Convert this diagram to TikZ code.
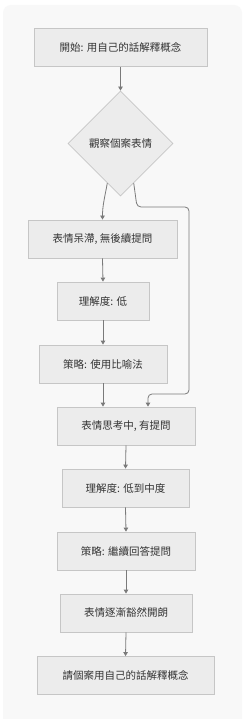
\documentclass[tikz,border=0pt]{standalone}
\usepackage{fontspec}
\setmainfont{Noto Sans CJK TC}
\usetikzlibrary{shapes.geometric,arrows.meta,calc}
\definecolor{panelbg}{HTML}{F8F8F8}
\definecolor{boxfill}{HTML}{ECECEC}
\definecolor{boxline}{HTML}{C6C6C6}
\definecolor{linkcol}{HTML}{7A7A7A}
\definecolor{txtcol}{HTML}{333333}
\tikzset{
  flowbox/.style={draw=boxline, fill=boxfill, line width=0.8pt, inner sep=0pt,
    minimum height=38pt, text=txtcol, font=\fontsize{10.5pt}{12pt}\selectfont},
  flowdia/.style={draw=boxline, fill=boxfill, line width=0.8pt, shape=diamond, inner sep=0pt,
    minimum width=105pt, minimum height=105pt, text=txtcol, font=\fontsize{10.5pt}{12pt}\selectfont},
  link/.style={draw=linkcol, line width=0.8pt, -{Triangle[width=4.5pt,length=4pt]}},
}
\begin{document}
\begin{tikzpicture}[x=1pt,y=-1pt]
\useasboundingbox (0,0) rectangle (247,719);
\fill[white] (0,0) rectangle (247,719);
\fill[panelbg, rounded corners=8pt] (3,5) rectangle (242,730);
\node[flowbox, minimum width=173pt] (b1) at (120.5,47.5) {開始: 用自己的話解釋概念};
\node[flowdia] (dia) at (120.5,143.5) {觀察個案表情};
\node[flowbox, minimum width=149pt] (b2) at (102.5,239) {表情呆滯, 無後續提問};
\node[flowbox, minimum width=92pt] (b3) at (103,301) {理解度: 低};
\node[flowbox, minimum width=128pt] (b4) at (103,364) {策略: 使用比喻法};
\node[flowbox, minimum width=138pt] (b5) at (126,426) {表情思考中, 有提問};
\node[flowbox, minimum width=127pt] (b6) at (125.5,488) {理解度: 低到中度};
\node[flowbox, minimum width=138pt] (b7) at (126,551) {策略: 繼續回答提問};
\node[flowbox, minimum width=132pt] (b8) at (126,613) {表情逐漸豁然開朗};
\node[flowbox, minimum width=177pt] (b9) at (125.5,675.5) {請個案用自己的話解釋概念};
\coordinate (dl) at ($(dia.south)!0.25!(dia.west)$);
\coordinate (dr) at ($(dia.south)!0.25!(dia.east)$);
\coordinate (b5in) at ($(b5.north)+(22,0)$);
\draw[link] (b1.south) -- (dia.north);
\draw[link] (dl) to[out=-100,in=90] (b2.north);
\draw[link, rounded corners=4pt] (dr) -- (137,207) -- (189,207) -- (189,394) -- (b5in |- 0,394) -- (b5in);
\draw[link] (b2.south) -- (b3.north);
\draw[link] (b3.south) -- (b4.north);
\draw[link] (b4.south) -- (b4.south |- b5.north);
\draw[link] (b5.south) -- (b6.north);
\draw[link] (b6.south) -- (b7.north);
\draw[link] (b7.south) -- (b8.north);
\draw[link] (b8.south) -- (b9.north);
\end{tikzpicture}
\end{document}
